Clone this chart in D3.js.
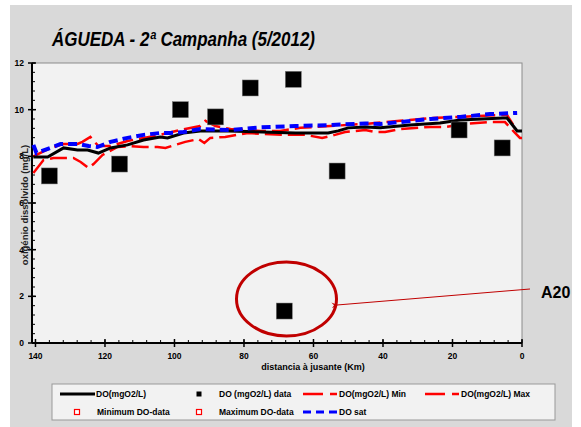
<!DOCTYPE html>
<html>
<head>
<meta charset="utf-8">
<script src="https://cdn.jsdelivr.net/npm/d3@7"></script>
<style>
  body { margin: 0; background: #fff; }
  svg { display: block; font-family: "Liberation Sans", Arial, sans-serif; }
</style>
</head>
<body>
<div id="chart"></div>
<script>
// km a jusante / valores
var kmDO  = [140.6,136.5,131.9,127.9,125.0,121.9,118.4,113.5,108.9,104.1,102.0,97.4,92.6,84.5,74.7,65.2,55.8,52.9,50.0,45.1,40.8,32.2,23.6,17.8,5.5,4.3,1.4,0];
var valDO = [7.97,7.97,8.36,8.27,8.27,8.14,8.36,8.49,8.70,8.83,8.79,9.00,9.09,9.09,9.04,9.00,9.00,9.09,9.22,9.26,9.22,9.34,9.43,9.56,9.64,9.64,9.09,9.09];

var kmSat  = [140.6,139.7,135.7,132.8,127.9,124.7,122.2,118.4,113.5,108.9,104.1,101.2,97.4,92.6,83.9,75.3,65.2,55.2,45.1,40.8,35.1,26.4,17.8,9.2,1.4];
var valSat = [8.49,8.14,8.36,8.53,8.53,8.44,8.40,8.62,8.79,8.92,9.00,9.00,9.04,9.17,9.13,9.24,9.30,9.34,9.41,9.39,9.47,9.60,9.69,9.81,9.86];

var kmMax  = [140.6,139.7,135.7,131.9,127.9,126.5,124.2,121.9,118.4,113.5,108.9,104.1,98.3,92.6,91.1,88.2,83.9,75.3,69.6,63.8,55.2,45.1,35.1,26.4,17.8,6.3,4.3,2.0];
var valMax = [8.00,8.06,8.36,8.53,8.53,8.62,8.83,8.44,8.44,8.66,8.79,8.92,9.13,9.30,9.52,9.30,9.17,9.09,9.09,9.22,9.30,9.39,9.52,9.64,9.69,9.77,9.77,9.22];

var kmMin  = [140.6,137.7,134.8,131.9,129.1,127.0,124.7,123.3,120.7,116.4,112.7,108.9,104.9,102.6,96.9,93.1,91.4,89.7,85.4,78.8,74.7,67.3,62.4,57.5,53.8,50.9,45.1,42.3,39.4,35.1,26.4,22.1,16.4,9.2,4.9,2.0,0.6,0];
var valMin = [7.29,7.84,7.93,7.93,7.93,7.76,7.50,7.67,8.06,8.40,8.44,8.40,8.40,8.36,8.62,8.74,8.57,8.79,8.83,9.00,8.96,8.92,8.92,8.79,8.92,9.04,9.13,9.04,9.04,9.17,9.26,9.26,9.39,9.47,9.47,9.00,8.79,8.79];

var kmData  = [136.0,115.8,98.3,88.2,78.2,65.8,53.2,68.4,18.1,5.7];
var valData = [7.16,7.67,10.0,9.69,10.93,11.3,7.37,1.37,9.13,8.36];

var xTicks = [140,120,100,80,60,40,20,0];
var yTicks = [0,2,4,6,8,10,12];

var width = 581, height = 427;
var plotLeft = 32, plotRight = 522, plotTop = 63, plotBottom = 343;

var svg = d3.select("#chart").append("svg")
    .attr("width", width)
    .attr("height", height);

// fundo cinzento
svg.append("rect")
    .attr("x", 10).attr("y", 5)
    .attr("width", 562).attr("height", 422)
    .attr("fill", "#d9d9d9");

svg.append("rect")
    .attr("x", plotLeft).attr("y", plotTop)
    .attr("width", plotRight - plotLeft).attr("height", plotBottom - plotTop)
    .attr("fill", "#f2f2f2")
    .attr("stroke", "#8c8c8c")
    .attr("stroke-width", 1);

var x = d3.scaleLinear().domain([141, 0]).range([plotLeft, plotRight]);
var y = d3.scaleLinear().domain([0, 12]).range([plotBottom, plotTop]);

// titulo
svg.append("text")
    .attr("x", 52).attr("y", 46)
    .attr("font-size", 21)
    .attr("font-weight", "bold")
    .attr("font-style", "italic")
    .attr("textLength", 263)
    .attr("lengthAdjust", "spacingAndGlyphs")
    .attr("fill", "#000")
    .text("ÁGUEDA - 2ª Campanha (5/2012)");

// eixo x
var gx = svg.append("g");
gx.selectAll("line.minor")
    .data(d3.range(0, 141, 4))
    .enter().append("line")
    .attr("class", "minor")
    .attr("x1", function(d){ return x(d); })
    .attr("x2", function(d){ return x(d); })
    .attr("y1", plotBottom).attr("y2", plotBottom - 3)
    .attr("stroke", "#000").attr("stroke-width", 1);
gx.selectAll("line.major")
    .data(xTicks)
    .enter().append("line")
    .attr("class", "major")
    .attr("x1", function(d){ return x(d); })
    .attr("x2", function(d){ return x(d); })
    .attr("y1", plotBottom - 4).attr("y2", plotBottom + 4)
    .attr("stroke", "#000").attr("stroke-width", 1.5);
gx.selectAll("text")
    .data(xTicks)
    .enter().append("text")
    .attr("x", function(d){ return x(d); })
    .attr("y", 359)
    .attr("text-anchor", "middle")
    .attr("font-size", 8.5)
    .attr("font-weight", "bold")
    .text(function(d){ return d; });

// eixo y
var gy = svg.append("g");
gy.selectAll("line.minor")
    .data(d3.range(0, 12.01, 0.4))
    .enter().append("line")
    .attr("class", "minor")
    .attr("x1", plotLeft).attr("x2", plotLeft + 3)
    .attr("y1", function(d){ return y(d); })
    .attr("y2", function(d){ return y(d); })
    .attr("stroke", "#000").attr("stroke-width", 1);
gy.selectAll("line.major")
    .data(yTicks)
    .enter().append("line")
    .attr("class", "major")
    .attr("x1", plotLeft - 4).attr("x2", plotLeft + 4)
    .attr("y1", function(d){ return y(d); })
    .attr("y2", function(d){ return y(d); })
    .attr("stroke", "#000").attr("stroke-width", 1.5);
gy.selectAll("text")
    .data(yTicks)
    .enter().append("text")
    .attr("x", 24)
    .attr("y", function(d){ return y(d) + 3; })
    .attr("text-anchor", "end")
    .attr("font-size", 8.5)
    .attr("font-weight", "bold")
    .text(function(d){ return d; });

svg.append("line")
    .attr("x1", plotLeft).attr("x2", plotRight)
    .attr("y1", plotBottom).attr("y2", plotBottom)
    .attr("stroke", "#000").attr("stroke-width", 2);
svg.append("line")
    .attr("x1", plotLeft).attr("x2", plotLeft)
    .attr("y1", plotTop).attr("y2", plotBottom)
    .attr("stroke", "#000").attr("stroke-width", 2);

svg.append("text")
    .attr("x", 313).attr("y", 370)
    .attr("text-anchor", "middle")
    .attr("font-size", 9)
    .attr("font-weight", "bold")
    .text("distancia à jusante (Km)");

svg.append("text")
    .attr("transform", "translate(28,205) rotate(-90)")
    .attr("text-anchor", "middle")
    .attr("font-size", 9.5)
    .attr("font-weight", "bold")
    .attr("fill", "#222")
    .text("oxigénio dissolvido (mg/L)");

// series
function serie(kms, vals) {
  return kms.map(function(k, i){ return [k, vals[i]]; });
}
var line = d3.line()
    .x(function(d){ return x(d[0]); })
    .y(function(d){ return y(d[1]); });

svg.append("path")
    .datum(serie(kmMin, valMin))
    .attr("d", line)
    .attr("fill", "none")
    .attr("stroke", "#ff0000").attr("stroke-width", 2.5)
    .attr("stroke-dasharray", "17,6");
svg.append("path")
    .datum(serie(kmMax, valMax))
    .attr("d", line)
    .attr("fill", "none")
    .attr("stroke", "#ff0000").attr("stroke-width", 2.5)
    .attr("stroke-dasharray", "17,6");
svg.append("path")
    .datum(serie(kmDO, valDO))
    .attr("d", line)
    .attr("fill", "none")
    .attr("stroke", "#000").attr("stroke-width", 3);
svg.append("path")
    .datum(serie(kmSat, valSat))
    .attr("d", line)
    .attr("fill", "none")
    .attr("stroke", "#0000ff").attr("stroke-width", 4)
    .attr("stroke-dasharray", "9,5");

svg.selectAll("rect.dados")
    .data(serie(kmData, valData))
    .enter().append("rect")
    .attr("class", "dados")
    .attr("x", function(d){ return x(d[0]) - 8; })
    .attr("y", function(d){ return y(d[1]) - 8; })
    .attr("width", 16).attr("height", 16)
    .attr("fill", "#000")
    .attr("stroke", "#777").attr("stroke-width", 0.5);

// anotacao A20
svg.append("defs").append("marker")
    .attr("id", "seta")
    .attr("viewBox", "0 0 10 10")
    .attr("refX", 1).attr("refY", 5)
    .attr("markerWidth", 6).attr("markerHeight", 6)
    .attr("orient", "auto-start-reverse")
    .append("path")
    .attr("d", "M10,0 L0,5 L10,10 L6,5 z")
    .attr("fill", "#c00000");

svg.append("ellipse")
    .attr("cx", 286.5).attr("cy", 299)
    .attr("rx", 50).attr("ry", 37)
    .attr("fill", "none")
    .attr("stroke", "#c00000").attr("stroke-width", 3);

svg.append("line")
    .attr("x1", 337).attr("y1", 305)
    .attr("x2", 530).attr("y2", 289)
    .attr("stroke", "#c00000").attr("stroke-width", 1)
    .attr("marker-start", "url(#seta)");

svg.append("text")
    .attr("x", 541).attr("y", 298)
    .attr("font-size", 16)
    .attr("font-weight", "bold")
    .text("A20");

// legenda
var leg = svg.append("g");
leg.append("rect")
    .attr("x", 52).attr("y", 384)
    .attr("width", 503).attr("height", 36)
    .attr("fill", "#f2f2f2")
    .attr("stroke", "#999").attr("stroke-width", 1);

var r1 = 394, r2 = 412;
leg.append("line").attr("x1", 60).attr("x2", 95).attr("y1", r1).attr("y2", r1)
    .attr("stroke", "#000").attr("stroke-width", 3);
leg.append("rect").attr("x", 196.5).attr("y", r1 - 2.5).attr("width", 5).attr("height", 5)
    .attr("fill", "#000");
leg.append("line").attr("x1", 303).attr("x2", 337).attr("y1", r1).attr("y2", r1)
    .attr("stroke", "#ff0000").attr("stroke-width", 2.5).attr("stroke-dasharray", "20,7");
leg.append("line").attr("x1", 425).attr("x2", 459).attr("y1", r1).attr("y2", r1)
    .attr("stroke", "#ff0000").attr("stroke-width", 2.5).attr("stroke-dasharray", "20,7");
leg.append("rect").attr("x", 74.5).attr("y", r2 - 2.5).attr("width", 5).attr("height", 5)
    .attr("fill", "#fff").attr("stroke", "#ff0000").attr("stroke-width", 1.2);
leg.append("rect").attr("x", 196.5).attr("y", r2 - 2.5).attr("width", 5).attr("height", 5)
    .attr("fill", "#fff").attr("stroke", "#ff0000").attr("stroke-width", 1.2);
leg.append("line").attr("x1", 303).attr("x2", 337).attr("y1", r2).attr("y2", r2)
    .attr("stroke", "#0000ff").attr("stroke-width", 3).attr("stroke-dasharray", "8,5");

var legTexts = [
  [96, r1, "DO(mgO2/L)"], [219, r1, "DO (mgO2/L) data"],
  [339, r1, "DO(mgO2/L) Min"], [461, r1, "DO(mgO2/L) Max"],
  [97, r2, "Minimum DO-data"], [219, r2, "Maximum DO-data"],
  [339, r2, "DO sat"]
];
leg.selectAll("text")
    .data(legTexts)
    .enter().append("text")
    .attr("x", function(d){ return d[0]; })
    .attr("y", function(d){ return d[1] + 3; })
    .attr("font-size", 8.5)
    .attr("font-weight", "bold")
    .text(function(d){ return d[2]; });
</script>
</body>
</html>
